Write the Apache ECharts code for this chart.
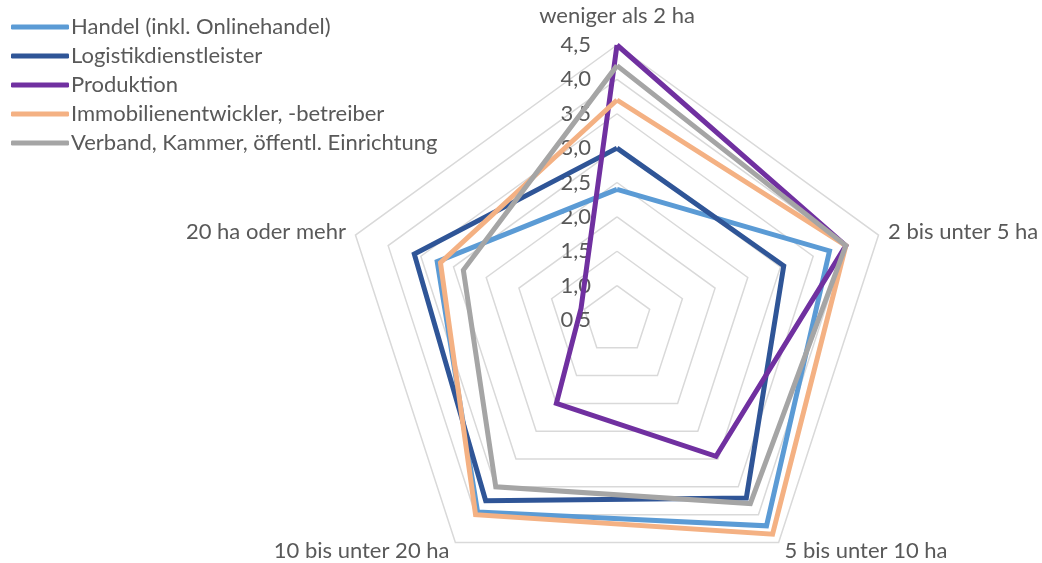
<!DOCTYPE html>
<html>
<head>
<meta charset="utf-8">
<script src="https://cdn.jsdelivr.net/npm/echarts@6/dist/echarts.min.js"></script>
<style>
  html, body { margin: 0; padding: 0; background: #fff; }
  #chart { width: 1042px; height: 563px; }
</style>
</head>
<body>
<div id="chart"></div>
<script>
  // Kategorien (im Uhrzeigersinn, beginnend oben)
  const categories = ['weniger als 2 ha', '2 bis unter 5 ha', '5 bis unter 10 ha', '10 bis unter 20 ha', '20 ha oder mehr']

  const seriesNames = [
    'Handel (inkl. Onlinehandel)',
    'Logistikdienstleister',
    'Produktion',
    'Immobilienentwickler, -betreiber',
    'Verband, Kammer, öffentl. Einrichtung'
  ]

  const handel = [2.4, 3.75, 4.2, 3.95, 3.25]
  const logistik = [3.0, 3.05, 3.7, 3.75, 3.6]
  const produktion = [4.5, 4.0, 2.95, 2.0, 1.05]
  const immobilien = [3.7, 4.0, 4.35, 4.0, 3.2]
  const verband = [4.2, 4.0, 3.8, 3.5, 2.85]

  const axisMin = 0.5
  const axisMax = 4.5
  const axisSteps = 8

  const colors = ['#5B9BD5', '#2F5597', '#7030A0', '#F4B183', '#A5A5A5']

  // echarts legt die Achsen gegen den Uhrzeigersinn an -> umsortieren
  const order = [0, 4, 3, 2, 1]
  const reorder = arr => order.map(i => arr[i])

  const allValues = [handel, logistik, produktion, immobilien, verband]

  // nur die obere Achse bekommt Beschriftung
  const indicators = reorder(categories).map((name, i) => {
    let ind = { name: name, min: axisMin, max: axisMax }
    if (i === 0) {
      ind.nameGap = 18
    } else {
      ind.axisLabel = { show: false }
    }
    return ind
  })

  const myChart = echarts.init(document.getElementById('chart'))

  const option = {
    color: colors,
    animation: false,
    textStyle: { fontFamily: 'Lato' },
    legend: {
      orient: 'vertical',
      left: 6,
      top: 11,
      icon: 'roundRect',
      itemWidth: 58,
      itemHeight: 5,
      itemGap: 7,
      data: seriesNames,
      textStyle: {
        fontFamily: 'Lato',
        fontSize: 22,
        color: '#595959',
        padding: [0, 0, 0, -3]
      }
    },
    radar: {
      center: [617, 320],
      radius: 275,
      shape: 'polygon',
      splitNumber: axisSteps,
      indicator: indicators,
      axisName: {
        color: '#595959',
        fontFamily: 'Lato',
        fontSize: 22
      },
      nameGap: 10,
      axisLine: { show: false },
      splitArea: { show: false },
      splitLine: {
        lineStyle: { color: '#D9D9D9', width: 1.5 }
      },
      axisTick: { show: false },
      axisLabel: {
        show: true,
        color: '#595959',
        fontFamily: 'Lato',
        fontSize: 22,
        margin: 26,
        formatter: v => Number(v).toFixed(1).replace('.', ',')
      }
    },
    series: seriesNames.map((name, i) => ({
      name: name,
      type: 'radar',
      symbol: 'none',
      lineStyle: { width: 5, join: 'miter', color: colors[i] },
      data: [{ name: name, value: reorder(allValues[i]) }]
    }))
  }

  myChart.setOption(option)
  window.addEventListener('resize', () => myChart.resize(), false)
</script>
</body>
</html>
